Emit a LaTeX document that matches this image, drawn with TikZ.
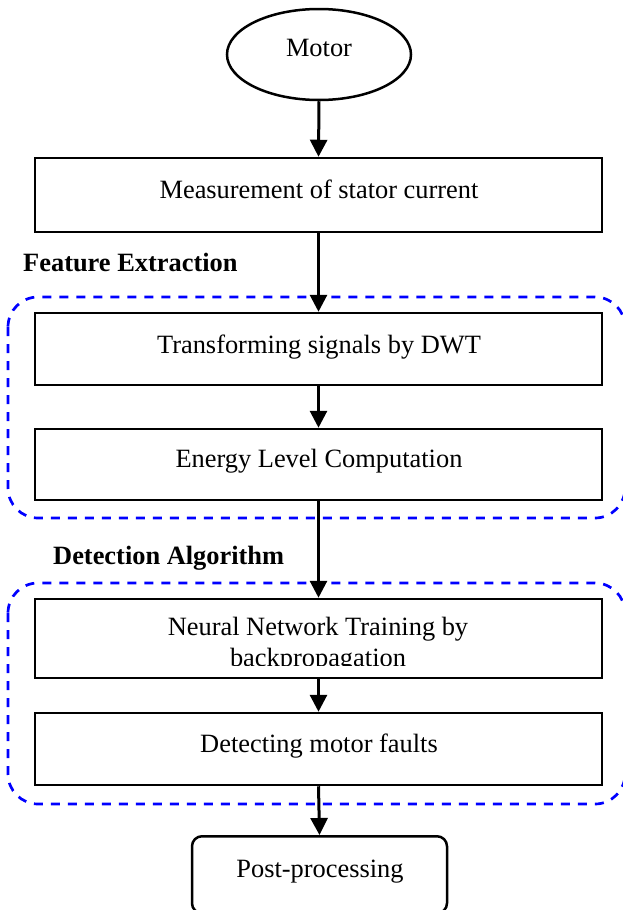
\documentclass[tikz,border=0pt]{standalone}
\usepackage{fontspec}
\setmainfont{Liberation Serif}
\usetikzlibrary{arrows.meta,shapes.geometric}
\begin{document}
\begin{tikzpicture}[x=1pt,y=-1pt,
  box/.style={draw, line width=2.5pt, minimum width=567pt, minimum height=72pt, inner sep=0pt},
  lbl/.style={anchor=base, inner sep=0pt, font=\fontsize{26.4}{30}\selectfont},
  head/.style={anchor=base west, inner sep=0pt, font=\fontsize{26.4}{30}\selectfont\bfseries},
  flow/.style={line width=3pt, -{Triangle[length=17pt,width=17pt]}},
  group/.style={draw=blue, line width=2.7pt, dash pattern=on 9pt off 8pt, rounded corners=30pt}]
\useasboundingbox (0,0) rectangle (623,910);
\clip (0,0) rectangle (623,910);

% dashed group frames
\draw[group] (8,297) rectangle (625,518);
\draw[group] (8,583) rectangle (625,804);

% shapes
\node[draw, ellipse, line width=2.5pt, minimum width=184pt, minimum height=91pt, inner sep=0pt] (motor) at (319,54.5) {};
\node[box, minimum height=74pt] (meas) at (318.5,195) {};
\node[box] (dwt) at (318.5,349) {};
\node[box, minimum height=71pt] (energy) at (318.5,464.5) {};
\node[box, minimum height=79pt] (nn) at (318.5,638.5) {};
\node[box] (detect) at (318.5,749) {};
\node[draw, rounded corners=10pt, line width=2.5pt, minimum width=255pt, minimum height=77pt, inner sep=0pt, anchor=north] (post) at (319.5,835) {};

% texts
\node[lbl] (motorT) at (319,56) {Motor};
\node[lbl] (measT) at (319,198) {Measurement of stator current};
\node[lbl] (dwtT) at (319,353) {Transforming signals by DWT};
\node[lbl] (energyT) at (319,467) {Energy Level Computation};
\node[lbl] (detectT) at (319,752) {Detecting motor faults};
\node[lbl] (postT) at (320,877) {Post-processing};
\begin{scope}
  \clip (37,601) rectangle (600,665);
  \node[lbl] (nnA) at (318,635) {Neural Network Training by};
  \node[lbl] (nnB) at (318,666) {backpropagation};
\end{scope}

% group headings
\node[head] (feat) at (23,271) {Feature Extraction};
\node[head] (detalg) at (53,564) {Detection Algorithm};

% connectors
\draw[flow] (motor.south) -- (meas.north);
\draw[flow] (meas.south) -- (dwt.north);
\draw[flow] (dwt.south) -- (energy.north);
\draw[flow] (energy.south) -- (nn.north);
\draw[flow] (nn.south) -- (detect.north);
\draw[flow] (detect.south) -- (post.north);
\end{tikzpicture}
\end{document}
